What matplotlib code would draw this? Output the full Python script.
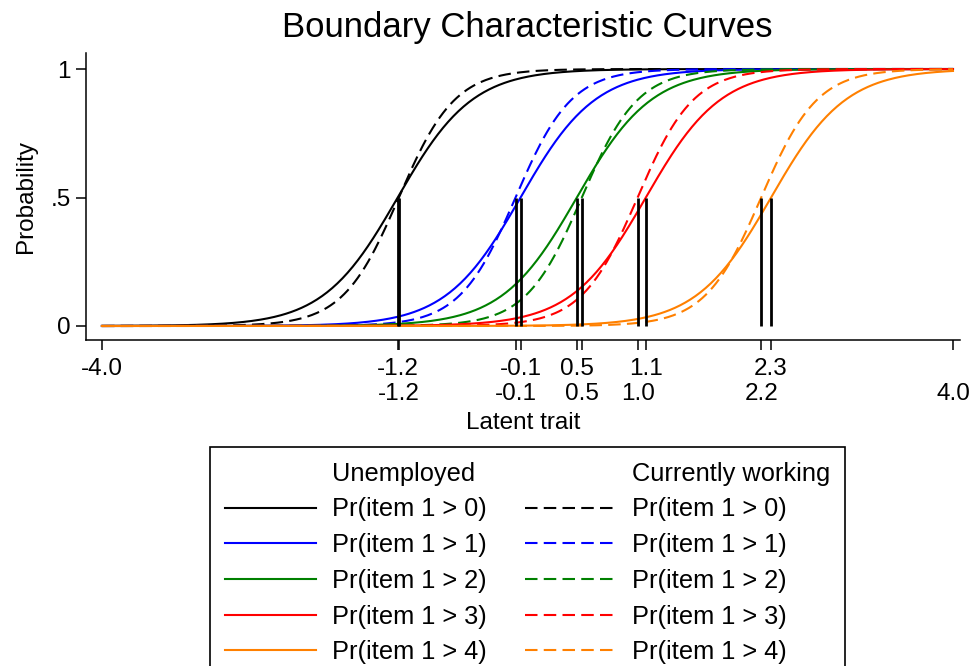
import numpy as np
import matplotlib.pyplot as plt
from matplotlib.lines import Line2D

plt.rcParams['font.family'] = ['Liberation Sans', 'DejaVu Sans']

# item 1 boundary parameters
groups = ['Unemployed', 'Currently working']
bounds = ['Pr(item 1 > 0)', 'Pr(item 1 > 1)', 'Pr(item 1 > 2)', 'Pr(item 1 > 3)', 'Pr(item 1 > 4)']
colors = ['black', '#0000ff', '#008000', '#ff0000', '#ff8000']
disc_unemp = 2.85
disc_work = 3.8
cuts_unemp = [-1.22, -0.065, 0.464, 1.113, 2.29]
cuts_work = [-1.209, -0.112, 0.511, 1.035, 2.197]
theta_min, theta_max = -4.0, 4.0

W, H = 971, 666
fig = plt.figure(figsize=(W / 100, H / 100), dpi=100)
ax = fig.add_axes([86 / W, 1 - 340 / H, (960 - 86) / W, (340 - 53) / H])

theta = np.linspace(theta_min, theta_max, 500)
dash = (0, (6, 3))
handles_u, handles_w = [], []
for b_u, b_w, col, lab in zip(cuts_unemp, cuts_work, colors, bounds):
    p_u = 1 / (1 + np.exp(-disc_unemp * (theta - b_u)))
    p_w = 1 / (1 + np.exp(-disc_work * (theta - b_w)))
    l1, = ax.plot(theta, p_u, color=col, lw=1.5, label=lab)
    l2, = ax.plot(theta, p_w, color=col, lw=1.5, linestyle=dash, label=lab)
    handles_u.append(l1)
    handles_w.append(l2)

# vertical lines at the 0.5 crossing
ax.vlines(cuts_unemp + cuts_work, 0, 0.5, color='black', lw=2, zorder=5)

ax.set_xlim(-4.15, 4.066)
ax.set_ylim(-0.0545, 1.0623)
ax.spines['top'].set_visible(False)
ax.spines['right'].set_visible(False)
for s in ['left', 'bottom']:
    ax.spines[s].set_linewidth(1.1)

ax.set_yticks([0, 0.5, 1])
ax.set_yticklabels(['0', '.5', '1'])

top_ticks = [theta_min] + cuts_unemp
bot_ticks = cuts_work + [theta_max]
ax.set_xticks(top_ticks)
ax.set_xticklabels(['%.1f' % v for v in top_ticks])
ax.set_xticks(bot_ticks, minor=True)
ax.set_xticklabels(['%.1f' % v for v in bot_ticks], minor=True)
ax.tick_params(axis='both', which='both', direction='out', length=7, width=1.1, labelsize=17.5)
ax.tick_params(axis='x', which='major', pad=6)
ax.tick_params(axis='x', which='minor', pad=24)
ax.tick_params(axis='y', pad=4)

ax.set_xlabel('Latent trait', fontsize=17.5, labelpad=5)
ax.set_ylabel('Probability', fontsize=17.5, labelpad=10)
fig.suptitle('Boundary Characteristic Curves', x=527 / W, y=1 - 27 / H, va='center', fontsize=25)

blank = Line2D([], [], color='none')
handles = [blank] + handles_u + [blank] + handles_w
labels = [groups[0]] + bounds + [groups[1]] + bounds
leg = fig.legend(handles, labels, loc='upper left', bbox_to_anchor=(210 / W, 1 - 447 / H),
                 ncol=2, fontsize=18.3, frameon=True, fancybox=False, framealpha=1,
                 edgecolor='black', handlelength=3.6, handletextpad=0.62,
                 columnspacing=1.5, labelspacing=0.46, borderpad=0.58, borderaxespad=0)
leg.get_frame().set_linewidth(1.2)

fig.savefig('out.png', dpi=100)
